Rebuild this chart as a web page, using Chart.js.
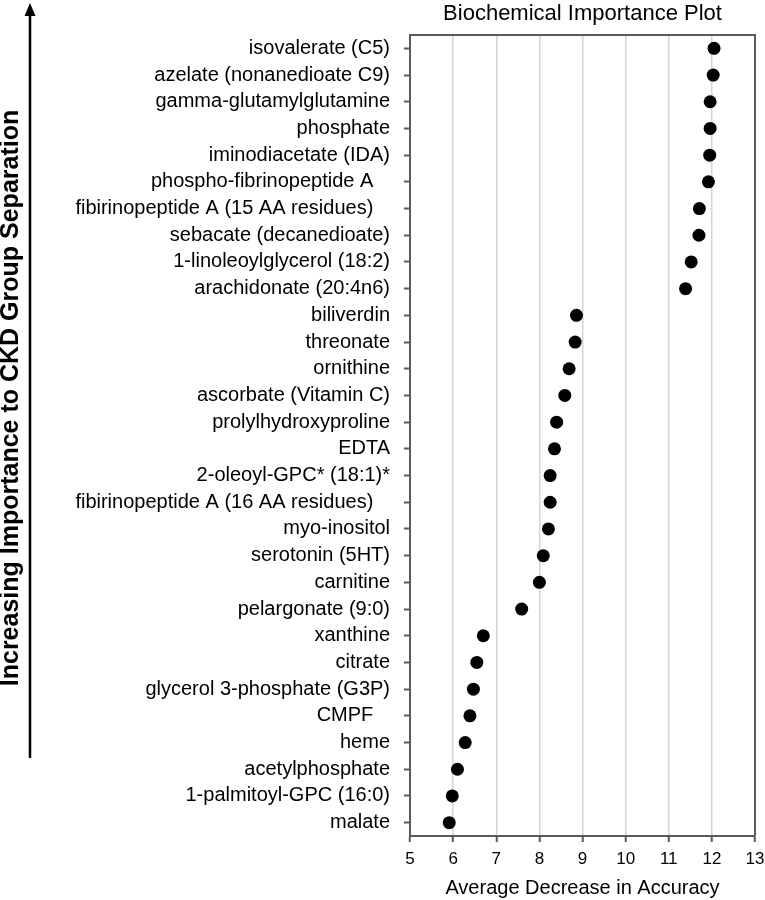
<!DOCTYPE html>
<html>
<head>
<meta charset="utf-8">
<script src="https://cdn.jsdelivr.net/npm/chart.js@4.4.1/dist/chart.umd.min.js"></script>
<style>
html,body{margin:0;padding:0;background:#fff;}
#wrap{width:765px;height:900px;position:relative;}
</style>
</head>
<body>
<div id="wrap"><canvas id="c" width="765" height="900"></canvas></div>
<script>
const categories = [
  "isovalerate (C5)",
  "azelate (nonanedioate C9)",
  "gamma-glutamylglutamine",
  "phosphate",
  "iminodiacetate (IDA)",
  "phospho-fibrinopeptide A   ",
  "fibirinopeptide A (15 AA residues)   ",
  "sebacate (decanedioate)",
  "1-linoleoylglycerol (18:2)",
  "arachidonate (20:4n6)",
  "biliverdin",
  "threonate",
  "ornithine",
  "ascorbate (Vitamin C)",
  "prolylhydroxyproline",
  "EDTA",
  "2-oleoyl-GPC* (18:1)*",
  "fibirinopeptide A (16 AA residues)   ",
  "myo-inositol",
  "serotonin (5HT)",
  "carnitine",
  "pelargonate (9:0)",
  "xanthine",
  "citrate",
  "glycerol 3-phosphate (G3P)",
  "CMPF   ",
  "heme",
  "acetylphosphate",
  "1-palmitoyl-GPC (16:0)",
  "malate"
];
const accuracyDecrease = [
  12.05, 12.03, 11.96, 11.96, 11.95, 11.92, 11.71, 11.70, 11.52, 11.39,
  8.86, 8.83, 8.69, 8.59, 8.40, 8.35, 8.25, 8.25, 8.21, 8.09,
  8.00, 7.59, 6.70, 6.55, 6.47, 6.39, 6.28, 6.10, 5.98, 5.91
];
const xTickMin = 5;
const xTickMax = 13;
const chartTitle = "Biochemical Importance Plot";
const xTitle = "Average Decrease in Accuracy";
const sideTitle = "Increasing Importance to CKD Group Separation";

const FONT = "'Liberation Sans', Arial, Helvetica, sans-serif";

const decor = {
  id: 'decor',
  afterDatasetsDraw(chart) {
    const ctx = chart.ctx;
    const a = chart.chartArea;
    ctx.save();
    // top and right frame lines
    ctx.strokeStyle = '#5a5a5a';
    ctx.lineWidth = 2;
    ctx.beginPath();
    ctx.moveTo(a.left, a.top);
    ctx.lineTo(a.right, a.top);
    ctx.lineTo(a.right, a.bottom);
    ctx.stroke();
    ctx.restore();
  },
  afterDraw(chart) {
    const ctx = chart.ctx;
    const a = chart.chartArea;
    ctx.save();
    // plot title centred over the plot area
    ctx.fillStyle = '#000';
    ctx.font = "22px " + FONT;
    ctx.textAlign = 'center';
    ctx.textBaseline = 'middle';
    ctx.fillText(chartTitle, (a.left + a.right) / 2, 14);
    // arrow
    ctx.strokeStyle = '#000';
    ctx.lineWidth = 2.5;
    ctx.beginPath();
    ctx.moveTo(30, 758);
    ctx.lineTo(30, 12);
    ctx.stroke();
    ctx.beginPath();
    ctx.moveTo(30, 3);
    ctx.lineTo(24.5, 16);
    ctx.lineTo(35.5, 16);
    ctx.closePath();
    ctx.fill();
    // rotated side title
    ctx.translate(18, 398);
    ctx.rotate(-Math.PI / 2);
    ctx.font = "bold 25px " + FONT;
    ctx.textAlign = 'center';
    ctx.textBaseline = 'alphabetic';
    ctx.fillText(sideTitle, 0, 0);
    ctx.restore();
  }
};

new Chart(document.getElementById('c'), {
  type: 'line',
  data: {
    labels: categories,
    datasets: [{
      data: accuracyDecrease,
      showLine: false,
      pointRadius: 6.5,
      pointHoverRadius: 6.5,
      pointBackgroundColor: '#000',
      pointBorderColor: '#000',
      pointBorderWidth: 0
    }]
  },
  options: {
    indexAxis: 'y',
    responsive: false,
    animation: false,
    layout: { padding: { left: 0, right: 0, top: 35, bottom: 0 } },
    plugins: {
      legend: { display: false },
      tooltip: { enabled: false },
      title: { display: false }
    },
    scales: {
      x: {
        type: 'linear',
        min: xTickMin,
        max: xTickMax,
        ticks: {
          stepSize: 1,
          color: '#000',
          font: { family: FONT, size: 17 },
          padding: 7
        },
        grid: {
          color: (c) => (c.tick && (c.tick.value === xTickMin || c.tick.value === xTickMax)) ? 'rgba(0,0,0,0)' : '#d4d4d4',
          lineWidth: 1.5,
          tickColor: '#5a5a5a',
          tickWidth: 2,
          tickLength: 6
        },
        border: { display: true, color: '#5a5a5a', width: 2 },
        title: {
          display: true,
          text: xTitle,
          color: '#000',
          font: { family: FONT, size: 20 },
          padding: { top: 0, bottom: 0 }
        },
        afterFit(s) { s.height = 64; s.paddingRight = 10; }
      },
      y: {
        type: 'category',
        offset: true,
        ticks: {
          color: '#000',
          font: { family: FONT, size: 20 },
          padding: 14,
          autoSkip: false
        },
        grid: {
          drawOnChartArea: false,
          color: '#5a5a5a',
          tickColor: '#5a5a5a',
          tickWidth: 2,
          tickLength: 6
        },
        border: { display: true, color: '#5a5a5a', width: 2 },
        afterFit(s) { s.width = 410; }
      }
    }
  },
  plugins: [decor]
});
</script>
</body>
</html>
